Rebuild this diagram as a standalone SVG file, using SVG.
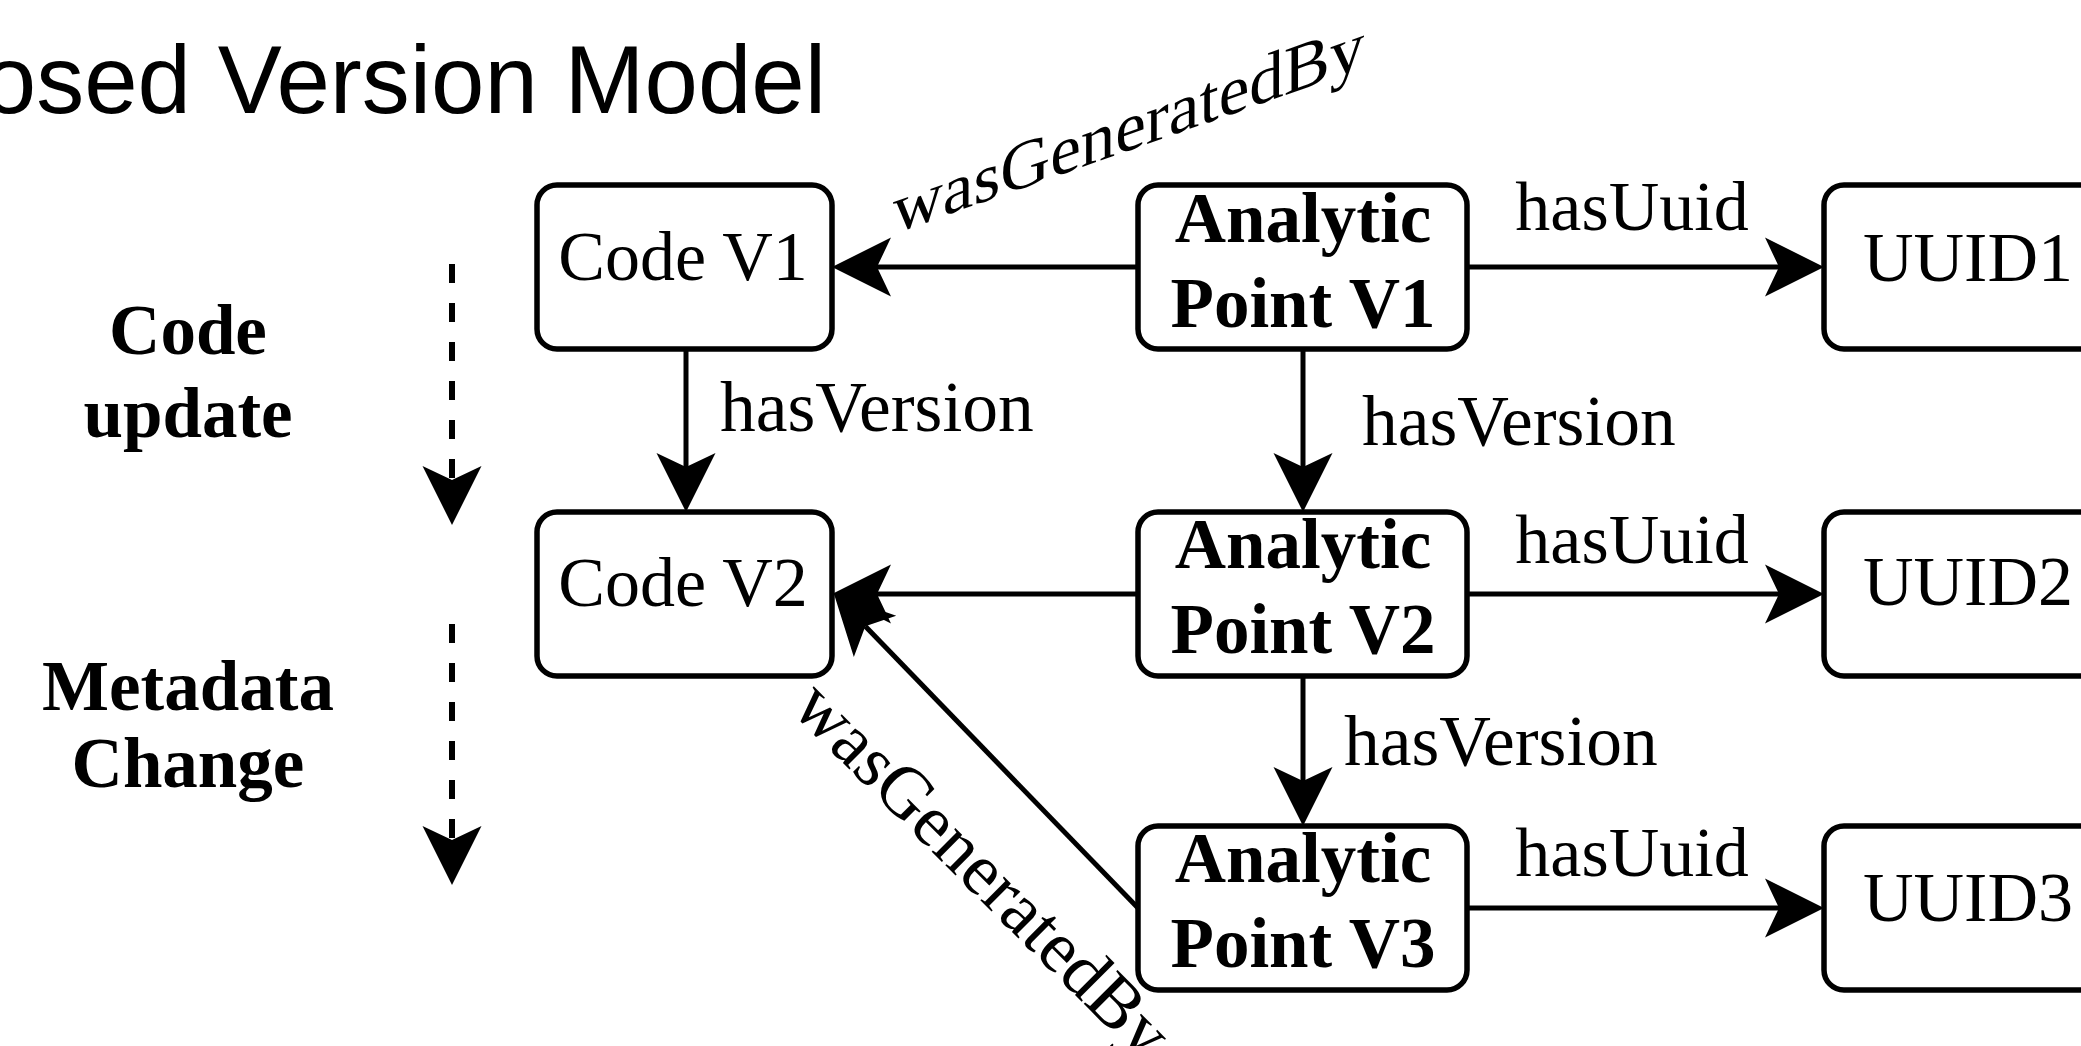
<svg xmlns="http://www.w3.org/2000/svg" width="2081" height="1046" viewBox="0 0 2081 1046">
<style>
.box{fill:#fff;stroke:#000;stroke-width:5.5}
.t{font-family:"Liberation Serif","Times New Roman",serif;font-size:70px;fill:#000}
.b{font-family:"Liberation Serif","Times New Roman",serif;font-size:71px;font-weight:bold;fill:#000}
.c{text-anchor:middle}
.ln{fill:none;stroke:#000;stroke-width:5}
.dash{fill:none;stroke:#000;stroke-width:6;stroke-dasharray:19 20}
</style>
<defs>
<marker id="ah" markerUnits="userSpaceOnUse" orient="auto" markerWidth="80" markerHeight="80" viewBox="-20 -40 80 80" refX="0" refY="0" overflow="visible">
<path d="M45,0 L-14,-29.5 L0,0 L-14,29.5 Z" fill="#000"/>
</marker>
</defs>
<rect width="2081" height="1046" fill="#fff"/>
<text x="826" y="113" font-family="'Liberation Sans',Arial,sans-serif" font-size="96" text-anchor="end" fill="#000">Proposed Version Model</text>

<g id="lbl-code-update">
<text class="b c" x="188" y="354">Code</text>
<text class="b c" x="188" y="437">update</text>
</g>
<g id="lbl-metadata-change">
<text class="b c" x="188" y="710">Metadata</text>
<text class="b c" x="188" y="787">Change</text>
</g>

<g id="connectors">
<path class="dash" d="M452,264 V480" marker-end="url(#ah)"/>
<path class="dash" d="M452,624 V840" marker-end="url(#ah)"/>
<path class="ln" d="M1138,267 H877" marker-end="url(#ah)"/>
<path class="ln" d="M1467,267 H1779" marker-end="url(#ah)"/>
<path class="ln" d="M686,349 V467" marker-end="url(#ah)"/>
<path class="ln" d="M1303,349 V467" marker-end="url(#ah)"/>
<path class="ln" d="M1138,594 H877" marker-end="url(#ah)"/>
<path class="ln" d="M1467,594 H1779" marker-end="url(#ah)"/>
<path class="ln" d="M1303,676 V781" marker-end="url(#ah)"/>
<path class="ln" d="M1467,908 H1779" marker-end="url(#ah)"/>
<path class="ln" d="M1138,908 L865.3,626.3" marker-end="url(#ah)"/>
<text class="t" style="font-size:69px" transform="translate(893,234) skewY(-19.5)">wasGeneratedBy</text>
<text class="t" style="font-size:73px" transform="translate(790,710) rotate(45)">wasGeneratedBy</text>
<text class="t" style="font-size:71.5px" x="720" y="431">hasVersion</text>
<text class="t" style="font-size:71.5px" x="1362" y="445">hasVersion</text>
<text class="t" style="font-size:71.5px" x="1344" y="765">hasVersion</text>
<text class="t c" x="1632" y="230">hasUuid</text>
<text class="t c" x="1632" y="563">hasUuid</text>
<text class="t c" x="1632" y="876">hasUuid</text>
</g>

<g id="code-v1">
<rect class="box" x="537" y="185" width="295" height="164" rx="20"/>
<text class="t c" x="683" y="280">Code V1</text>
</g>
<g id="code-v2">
<rect class="box" x="537" y="512" width="295" height="164" rx="20"/>
<text class="t c" x="683" y="606">Code V2</text>
</g>
<g id="ap-v1">
<rect class="box" x="1138" y="185" width="329" height="164" rx="20"/>
<text class="b c" x="1303" y="242">Analytic</text>
<text class="b c" x="1303" y="327">Point V1</text>
</g>
<g id="ap-v2">
<rect class="box" x="1138" y="512" width="329" height="164" rx="20"/>
<text class="b c" x="1303" y="568">Analytic</text>
<text class="b c" x="1303" y="653">Point V2</text>
</g>
<g id="ap-v3">
<rect class="box" x="1138" y="826" width="329" height="164" rx="20"/>
<text class="b c" x="1303" y="882">Analytic</text>
<text class="b c" x="1303" y="967">Point V3</text>
</g>
<g id="uuid1">
<rect class="box" x="1824" y="185" width="296" height="164" rx="20"/>
<text class="t c" x="1968" y="281">UUID1</text>
</g>
<g id="uuid2">
<rect class="box" x="1824" y="512" width="296" height="164" rx="20"/>
<text class="t c" x="1968" y="605">UUID2</text>
</g>
<g id="uuid3">
<rect class="box" x="1824" y="826" width="296" height="164" rx="20"/>
<text class="t c" x="1968" y="921">UUID3</text>
</g>
</svg>
